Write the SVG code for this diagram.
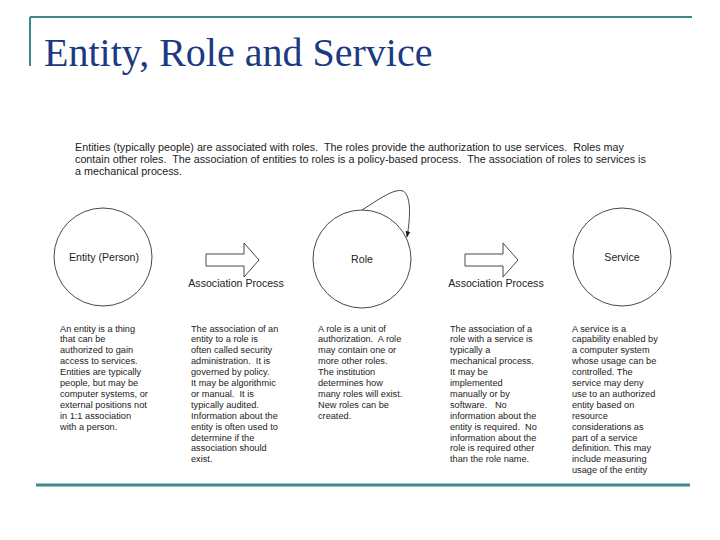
<svg xmlns="http://www.w3.org/2000/svg" width="720" height="540" viewBox="0 0 720 540">
<style>
text{white-space:pre}
.t{font-family:"Liberation Sans",Arial,sans-serif;font-size:9.2px;fill:#222}
.i{font-family:"Liberation Sans",Arial,sans-serif;font-size:10.75px;fill:#222}
.n{font-family:"Liberation Sans",Arial,sans-serif;font-size:10.6px;fill:#222}
.c{fill:none;stroke:#333;stroke-width:0.9}
.frame{stroke:#3d8a8c;fill:none}
</style>
<defs>
<marker id="ah" viewBox="0 0 10 10" refX="9" refY="5" markerWidth="7" markerHeight="7" orient="auto"><path d="M0,1 L10,5 L0,9 z" fill="#222"/></marker>
</defs>
<rect width="720" height="540" fill="#fff"/>
<g id="frame">
<path class="frame" d="M30,17 H692" stroke-width="2"/>
<path class="frame" d="M30,17 V66" stroke-width="2"/>
<path class="frame" d="M36,485 H690" stroke-width="3"/>
</g>
<text x="44" y="66" font-family="Liberation Serif,'Times New Roman',serif" font-size="40" fill="#1b3a82">Entity, Role and Service</text>
<g id="intro" class="i">
<text x="75" y="150.5" xml:space="preserve">Entities (typically people) are associated with roles.  The roles provide the authorization to use services.  Roles may</text>
<text x="75" y="162.5" xml:space="preserve">contain other roles.  The association of entities to roles is a policy-based process.  The association of roles to services is</text>
<text x="75" y="174.5">a mechanical process.</text>
</g>
<g id="entity"><circle class="c" cx="103" cy="257" r="49"/><text class="n" x="104" y="260.5" text-anchor="middle">Entity (Person)</text></g>
<g id="role"><circle class="c" cx="362" cy="259" r="49"/><text class="n" x="362" y="263" text-anchor="middle">Role</text></g>
<g id="service"><circle class="c" cx="622" cy="257" r="49"/><text class="n" x="622" y="260.5" text-anchor="middle">Service</text></g>
<g id="assoc1"><path class="c" d="M206,254 H244 V243 L259,260 L244,277 V266 H206 Z"/><text class="n" x="236" y="287" text-anchor="middle">Association Process</text></g>
<g id="assoc2"><path class="c" d="M465,254 H503 V243 L518,260 L503,277 V266 H465 Z"/><text class="n" x="496" y="287" text-anchor="middle">Association Process</text></g>
<g id="connectors">
<path class="c" d="M362,210 C378,200 394,188 403,191 C412,196 410,220 407,237" marker-end="url(#ah)"/>
</g>
<g id="desc-entity" class="t">
<text x="60" y="331.5">An entity is a thing</text>
<text x="60" y="342.4">that can be</text>
<text x="60" y="353.3">authorized to gain</text>
<text x="60" y="364.2">access to services.</text>
<text x="60" y="375.1">Entities are typically</text>
<text x="60" y="386">people, but may be</text>
<text x="60" y="396.9">computer systems, or</text>
<text x="60" y="407.8">external positions not</text>
<text x="60" y="418.7">in 1:1 association</text>
<text x="60" y="429.6">with a person.</text>
</g>
<g id="desc-assoc1" class="t">
<text x="191" y="331.5">The association of an</text>
<text x="191" y="342.4">entity to a role is</text>
<text x="191" y="353.3">often called security</text>
<text x="191" y="364.2" xml:space="preserve">administration.  It is</text>
<text x="191" y="375.1">governed by policy.</text>
<text x="191" y="386">It may be algorithmic</text>
<text x="191" y="396.9" xml:space="preserve">or manual.  It is</text>
<text x="191" y="407.8">typically audited.</text>
<text x="191" y="418.7">Information about the</text>
<text x="191" y="429.6">entity is often used to</text>
<text x="191" y="440.5">determine if the</text>
<text x="191" y="451.4">association should</text>
<text x="191" y="462.3">exist.</text>
</g>
<g id="desc-role" class="t">
<text x="318" y="331.5">A role is a unit of</text>
<text x="318" y="342.4" xml:space="preserve">authorization.  A role</text>
<text x="318" y="353.3">may contain one or</text>
<text x="318" y="364.2">more other roles.</text>
<text x="318" y="375.1">The institution</text>
<text x="318" y="386">determines how</text>
<text x="318" y="396.9">many roles will exist.</text>
<text x="318" y="407.8">New roles can be</text>
<text x="318" y="418.7">created.</text>
</g>
<g id="desc-assoc2" class="t">
<text x="450" y="331.5">The association of a</text>
<text x="450" y="342.4">role with a service is</text>
<text x="450" y="353.3">typically a</text>
<text x="450" y="364.2">mechanical process.</text>
<text x="450" y="375.1">It may be</text>
<text x="450" y="386">implemented</text>
<text x="450" y="396.9">manually or by</text>
<text x="450" y="407.8" xml:space="preserve">software.   No</text>
<text x="450" y="418.7">information about the</text>
<text x="450" y="429.6" xml:space="preserve">entity is required.  No</text>
<text x="450" y="440.5">information about the</text>
<text x="450" y="451.4">role is required other</text>
<text x="450" y="462.3">than the role name.</text>
</g>
<g id="desc-service" class="t">
<text x="572" y="331.5">A service is a</text>
<text x="572" y="342.4">capability enabled by</text>
<text x="572" y="353.3">a computer system</text>
<text x="572" y="364.2">whose usage can be</text>
<text x="572" y="375.1">controlled. The</text>
<text x="572" y="386">service may deny</text>
<text x="572" y="396.9">use to an authorized</text>
<text x="572" y="407.8">entity based on</text>
<text x="572" y="418.7">resource</text>
<text x="572" y="429.6">considerations as</text>
<text x="572" y="440.5">part of a service</text>
<text x="572" y="451.4">definition. This may</text>
<text x="572" y="462.3">include measuring</text>
<text x="572" y="473.2">usage of the entity</text>
</g>
</svg>
